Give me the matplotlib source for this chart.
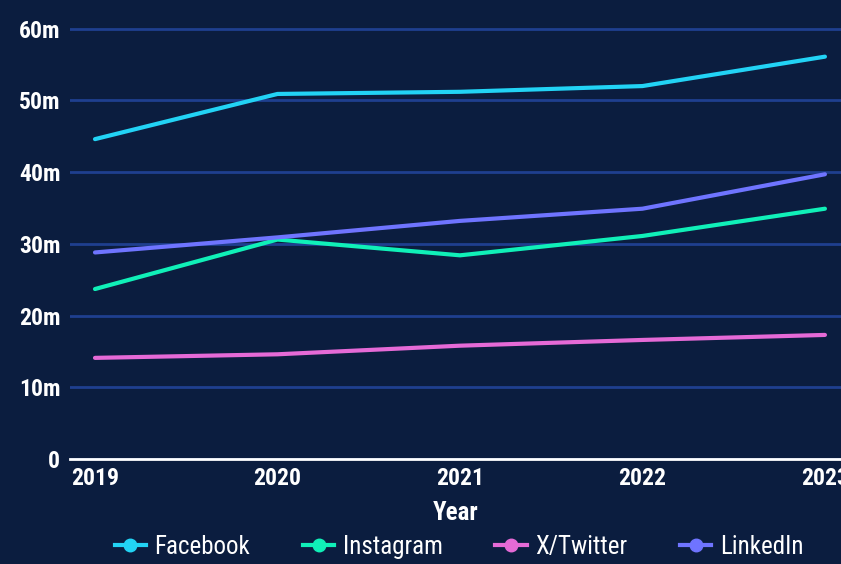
import matplotlib
matplotlib.use("Agg")
import matplotlib.pyplot as plt
from matplotlib.ticker import FuncFormatter

# values (millions)
years = [2019, 2020, 2021, 2022, 2023]
facebook = [44.6, 50.9, 51.2, 52.0, 56.1]
instagram = [23.7, 30.6, 28.4, 31.1, 34.9]
twitter = [14.1, 14.6, 15.8, 16.6, 17.3]
linkedin = [28.8, 30.9, 33.2, 34.9, 39.7]

series_names = ["Facebook", "Instagram", "X/Twitter", "LinkedIn"]
series_colors = ["#22d3f5", "#10f0b8", "#e56ad6", "#6f74ff"]

bg = "#0b1d3f"
font = "Roboto Condensed"

fig = plt.figure(figsize=(8.41, 5.64), dpi=100, facecolor=bg)
ax = fig.add_axes([70 / 841, 1 - 459 / 564, 771 / 841, 459 / 564])
ax.set_facecolor(bg)

for vals, name, col in zip([facebook, instagram, twitter, linkedin], series_names, series_colors):
    ax.plot(years, vals, color=col, lw=3, solid_capstyle="round", label=name)

ax.set_xlim(2018.863, 2023.088)
ax.set_ylim(0, 64)
ax.set_yticks([0, 10, 20, 30, 40, 50, 60])
ax.set_xticks(years)
ax.yaxis.set_major_formatter(FuncFormatter(lambda v, p: "0" if v == 0 else f"{int(v)}m"))
ax.grid(axis="y", color="#1f3f8f", lw=2)
ax.set_axisbelow(True)
for s in ["top", "right", "left"]:
    ax.spines[s].set_visible(False)
ax.spines["bottom"].set_color("white")
ax.spines["bottom"].set_linewidth(2)
ax.tick_params(length=0, colors="white", labelsize=17, pad=6)
ax.tick_params(axis="y", pad=7)
for lab in ax.get_xticklabels() + ax.get_yticklabels():
    lab.set_fontfamily(font)
    lab.set_fontweight("bold")

ax.set_xlabel("Year", color="white", fontsize=18, fontfamily=font,
              fontweight="bold", labelpad=8)

# legend handles: line with a dot in the middle
handles = []
for name, col in zip(series_names, series_colors):
    h, = ax.plot([], [], color=col, lw=3, marker="o", markersize=9, label=name)
    handles.append(h)
leg = fig.legend(handles=handles, loc="center", bbox_to_anchor=(459 / 841, 1 - 547 / 564),
                 ncol=4, frameon=False, handlelength=1.25, columnspacing=2.1,
                 handletextpad=0.35, labelcolor="white",
                 prop={"family": font, "size": 18})

fig.savefig("out.png", dpi=100, facecolor=bg)
